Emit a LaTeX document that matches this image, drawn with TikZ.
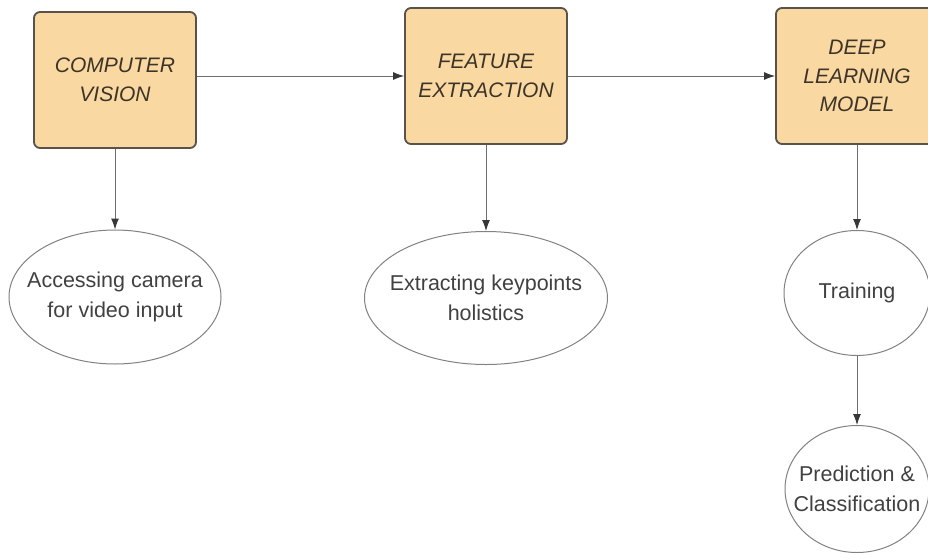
\documentclass[tikz,border=0pt]{standalone}
\usepackage{fontspec}
\setmainfont{Liberation Sans}
\usetikzlibrary{shapes,arrows,positioning,calc,arrows.meta}

\definecolor{boxfill}{RGB}{250,216,162}
\definecolor{boxline}{RGB}{88,82,72}
\definecolor{boxtext}{RGB}{60,52,40}
\definecolor{ovalline}{RGB}{130,130,130}
\definecolor{ovaltext}{RGB}{65,65,65}
\definecolor{arrline}{RGB}{110,110,110}
\definecolor{tipcol}{RGB}{55,55,55}

\begin{document}
\begin{tikzpicture}[x=1pt, y=-1pt,
    block/.style={rectangle, rounded corners=6pt, draw=boxline, line width=1.8pt, fill=boxfill, minimum width=162pt, minimum height=136pt, align=center, text=boxtext, font=\fontsize{21}{28.5}\selectfont\itshape},
    oval/.style={ellipse, draw=ovalline, line width=1pt, inner sep=0pt},
    ovaltxt/.style={align=center, text=ovaltext, font=\fontsize{21.5}{29.5}\selectfont},
    arr/.style={draw=arrline, line width=1pt, -{Latex[length=11pt, width=8pt, color=tipcol]}}]
    \useasboundingbox[fill=white] (0,0) rectangle (928,552);

    % top row
    \node[block] (cv) at (115,80) {COMPUTER\\VISION};
    \node[block] (fe) at (486,76) {FEATURE\\EXTRACTION};
    \node[block] (dl) at (857,76) {DEEP\\LEARNING\\MODEL};

    % ovals
    \node[oval, minimum width=212pt, minimum height=134pt, label={[ovaltxt]center:Accessing camera\\for video input}] (cam) at (115,297) {};
    \node[oval, minimum width=243pt, minimum height=133pt, label={[ovaltxt]center:Extracting keypoints\\holistics}] (kp) at (486,298) {};
    \node[oval, minimum width=146pt, minimum height=125pt, label={[ovaltxt]center:Training}] (train) at (857,293) {};
    \node[oval, minimum width=144pt, minimum height=127pt, label={[ovaltxt]center:Prediction \&\\Classification}] (pred) at (857,489) {};

    % connectors
    \draw[arr] (cv.east |- fe.west) -- (fe.west);
    \draw[arr] (fe.east) -- (dl.west);
    \draw[arr] (cv.south) -- (cam.north);
    \draw[arr] (fe.south) -- (kp.north);
    \draw[arr] (dl.south) -- (train.north);
    \draw[arr] (train.south) -- (pred.north);
\end{tikzpicture}
\end{document}
